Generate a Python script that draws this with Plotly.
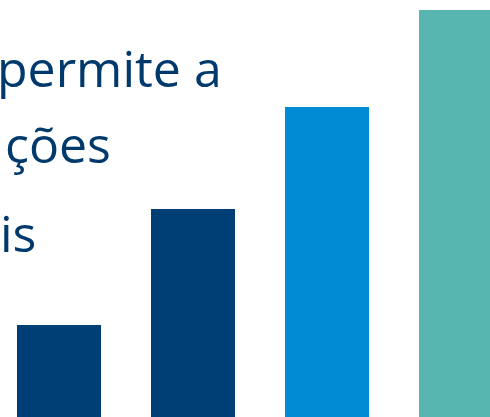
import plotly.graph_objects as go

categories = ["A", "B", "C", "D"]
values = [92, 208, 310, 407]
colors = ["#003f75", "#003f75", "#008bd4", "#58b6b1"]
text_lines = ["permite a", "ções", "is"]

x_pos = list(range(len(categories)))

fig = go.Figure()
fig.add_trace(go.Bar(
    x=x_pos, y=values, width=84 / 134,
    marker=dict(color=colors, line=dict(width=0)),
    hoverinfo="skip",
))

W, H = 490, 417
# text line placements (right edge px, baseline px)
placements = [(224, 82), (113, 157), (38, 246)]
fs = 50
for txt, (xr, yb) in zip(text_lines, placements):
    fig.add_annotation(
        text=txt, xref="paper", yref="paper",
        x=xr / W, y=1 - (yb - 0.27 * fs) / H,
        xanchor="right", yanchor="middle", showarrow=False,
        font=dict(family="Open Sans", size=fs, color="#003a6c"),
    )

fig.update_layout(
    width=W, height=H, margin=dict(l=0, r=0, t=0, b=0),
    paper_bgcolor="white", plot_bgcolor="white", showlegend=False,
    xaxis=dict(range=[-59 / 134, (490 - 59) / 134], visible=False, fixedrange=True),
    yaxis=dict(range=[0, 417], visible=False, fixedrange=True),
)

fig.write_html("out.html", config={"displayModeBar": False},
               post_script="document.body.style.margin='0';document.body.style.overflow='hidden';")
